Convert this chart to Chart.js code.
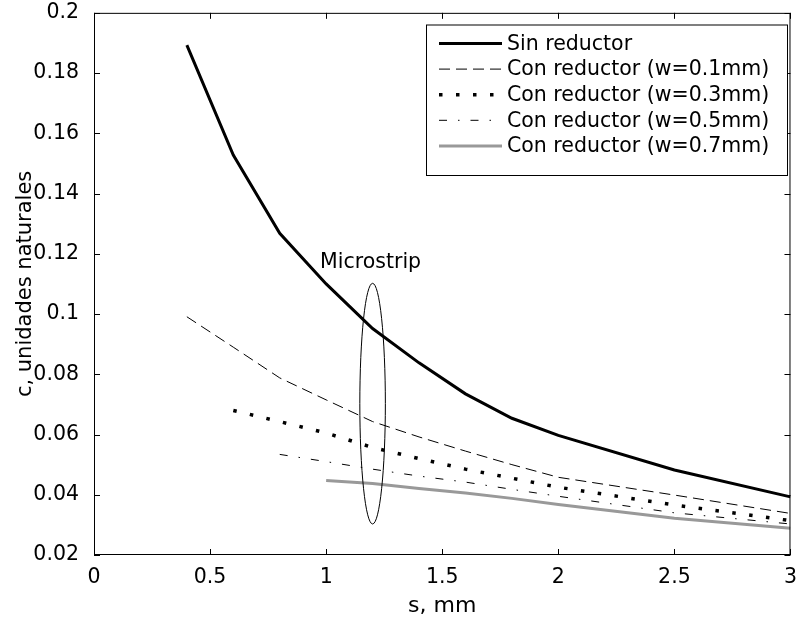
<!DOCTYPE html>
<html lang="es">
<head>
<meta charset="UTF-8">
<title>c vs s</title>
<script src="https://cdn.jsdelivr.net/npm/chart.js"></script>
<style>
  body { margin: 0; background: #fff; }
  #wrap { width: 799px; height: 622px; position: relative; }
</style>
</head>
<body>
<div id="wrap"><canvas id="chart"></canvas></div>
<script>
// separación s (mm)
const sValues = [0.4, 0.6, 0.8, 1.0, 1.2, 1.4, 1.6, 1.8, 2.0, 2.5, 3.0];

// c, unidades naturales
const sinReductor = [0.1893, 0.1528, 0.1268, 0.1100, 0.0952, 0.0838, 0.0735, 0.0654, 0.0597, 0.0482, 0.0393];
const conW01 = [0.0991, 0.0890, 0.0788, 0.0715, 0.0643, 0.0592, 0.0545, 0.0500, 0.0458, 0.0399, 0.0338];
const conW03 = [null, 0.0680, 0.0643, 0.0605, 0.0557, 0.0520, 0.0485, 0.0455, 0.0425, 0.0366, 0.0314];
const conW05 = [null, null, 0.0534, 0.0510, 0.0485, 0.0462, 0.0442, 0.0418, 0.0395, 0.0340, 0.0303];
const conW07 = [null, null, null, 0.0447, 0.0437, 0.0421, 0.0406, 0.0388, 0.0368, 0.0322, 0.0289];

const seriesLabels = [
  'Sin reductor',
  'Con reductor (w=0.1mm)',
  'Con reductor (w=0.3mm)',
  'Con reductor (w=0.5mm)',
  'Con reductor (w=0.7mm)'
];

const xTicks = [0, 0.5, 1, 1.5, 2, 2.5, 3];
const yTicks = [0.02, 0.04, 0.06, 0.08, 0.1, 0.12, 0.14, 0.16, 0.18, 0.2];

const FONT = "'DejaVu Sans', sans-serif";

function toPoints(arr) {
  return sValues.map((s, i) => ({ x: s, y: arr[i] })).filter(p => p.y !== null);
}

const styles = [
  { borderColor: '#000', borderWidth: 3, borderDash: [] },
  { borderColor: '#000', borderWidth: 1, borderDash: [11, 6] },
  { borderColor: '#000', borderWidth: 3.5, borderDash: [3.5, 13.5] },
  { borderColor: '#000', borderWidth: 1, borderDash: [8, 11, 1.5, 11] },
  { borderColor: '#999', borderWidth: 3, borderDash: [] }
];

const allSeries = [sinReductor, conW01, conW03, conW05, conW07];

// marco, marcas hacia dentro, elipse y leyenda al estilo matlab
const framePlugin = {
  id: 'frame',
  afterDatasetsDraw(chart) {
    const ctx = chart.ctx;
    const a = chart.chartArea;
    const xs = chart.scales.x, ys = chart.scales.y;
    ctx.save();
    ctx.strokeStyle = '#000';
    ctx.lineWidth = 1;
    ctx.setLineDash([]);
    ctx.strokeRect(a.left + 0.5, a.top + 0.5, a.right - a.left - 1, a.bottom - a.top - 1);
    const tl = 6;
    ctx.beginPath();
    xTicks.forEach(v => {
      const px = Math.round(xs.getPixelForValue(v)) + 0.5;
      ctx.moveTo(px, a.bottom); ctx.lineTo(px, a.bottom - tl);
      ctx.moveTo(px, a.top); ctx.lineTo(px, a.top + tl);
    });
    yTicks.forEach(v => {
      const py = Math.round(ys.getPixelForValue(v)) + 0.5;
      ctx.moveTo(a.left, py); ctx.lineTo(a.left + tl, py);
      ctx.moveTo(a.right, py); ctx.lineTo(a.right - tl, py);
    });
    ctx.stroke();

    // elipse "Microstrip"
    const cx = xs.getPixelForValue(1.2);
    const rx = xs.getPixelForValue(1.2 + 0.055) - cx;
    const yTop = ys.getPixelForValue(0.1102);
    const yBot = ys.getPixelForValue(0.0303);
    ctx.beginPath();
    ctx.ellipse(cx, (yTop + yBot) / 2, rx, (yBot - yTop) / 2, 0, 0, Math.PI * 2);
    ctx.stroke();
    ctx.fillStyle = '#000';
    ctx.font = '20.5px ' + FONT;
    ctx.textAlign = 'center';
    ctx.textBaseline = 'middle';
    ctx.fillText('Microstrip', cx - 2, yTop - 21);

    // leyenda
    const lx = 426, ly = 24.5, lw = 361, lh = 150.5;
    ctx.fillStyle = '#fff';
    ctx.fillRect(lx, ly, lw, lh);
    ctx.strokeRect(lx + 0.5, ly + 0.5, lw, lh);
    ctx.textAlign = 'left';
    chart.data.datasets.forEach((ds, i) => {
      const y = 43.5 + i * 25.6;
      ctx.strokeStyle = ds.borderColor;
      ctx.lineWidth = ds.borderWidth;
      ctx.setLineDash(ds.borderDash);
      ctx.beginPath();
      ctx.moveTo(439, y);
      ctx.lineTo(502, y);
      ctx.stroke();
      ctx.setLineDash([]);
      ctx.fillStyle = '#000';
      ctx.fillText(ds.label, 507, y + 1);
    });
    ctx.restore();
  }
};

Chart.defaults.color = '#000';
Chart.defaults.font.family = FONT;

new Chart(document.getElementById('chart'), {
  type: 'line',
  data: {
    datasets: allSeries.map((arr, i) => ({
      label: seriesLabels[i],
      data: toPoints(arr),
      borderColor: styles[i].borderColor,
      borderWidth: styles[i].borderWidth,
      borderDash: styles[i].borderDash,
      pointRadius: 0,
      tension: 0,
      fill: false
    }))
  },
  options: {
    responsive: true,
    maintainAspectRatio: false,
    animation: false,
    layout: { padding: { left: 0, top: 0, right: 0, bottom: 0 } },
    plugins: { legend: { display: false }, tooltip: { enabled: false } },
    scales: {
      x: {
        type: 'linear',
        min: 0, max: 3,
        grid: { display: false },
        border: { display: false },
        afterBuildTicks: s => { s.ticks = xTicks.map(v => ({ value: v })); },
        afterFit: s => { s.height = 67; },
        ticks: {
          padding: 2,
          font: { size: 20.5 },
          callback: v => String(+v.toFixed(3))
        },
        title: {
          display: true,
          text: 's, mm',
          font: { size: 22 },
          padding: { top: 0, bottom: 3 }
        }
      },
      y: {
        min: 0.02, max: 0.2,
        grid: { display: false },
        border: { display: false },
        afterBuildTicks: s => { s.ticks = yTicks.map(v => ({ value: v })); },
        afterFit: s => { s.width = 94; },
        ticks: {
          padding: 7,
          font: { size: 20.5, lineHeight: 0.57 },
          callback: v => String(+v.toFixed(3))
        },
        title: {
          display: true,
          text: 'c, unidades naturales',
          font: { size: 21 },
          padding: { top: 13, bottom: 0 }
        }
      }
    }
  },
  plugins: [framePlugin]
});
</script>
</body>
</html>
